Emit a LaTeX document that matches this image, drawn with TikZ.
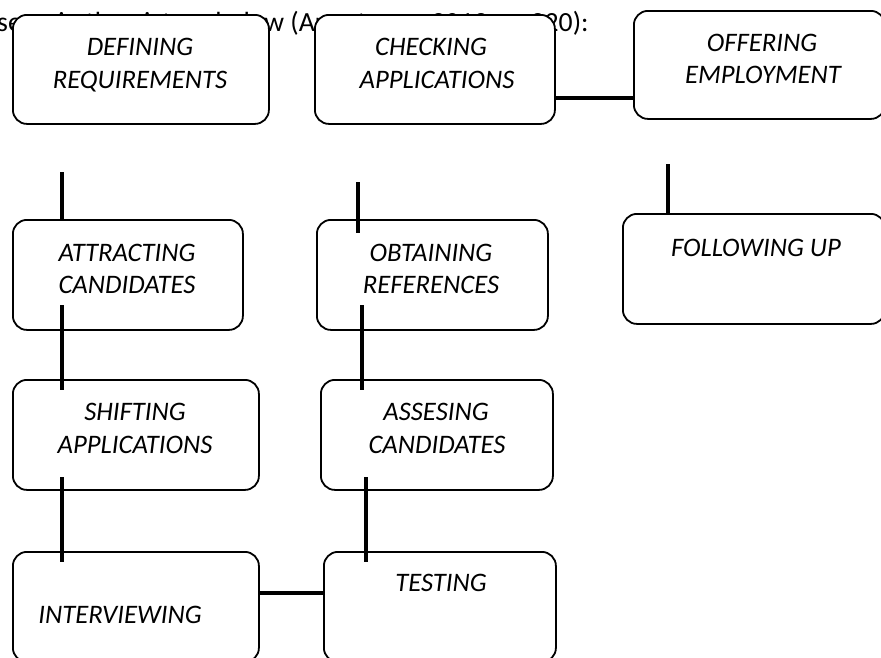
\documentclass[tikz,border=0pt]{standalone}
\usepackage{fontspec}
\setmainfont{Carlito}
\begin{document}
\begin{tikzpicture}[x=1pt,y=-1pt,
  box/.style={draw, line width=1.8pt, rounded corners=14pt, fill=white, inner sep=0pt, anchor=north west},
  conn/.style={line width=4pt},
  lbl/.style={font=\fontsize{26.7}{33}\selectfont\itshape, inner sep=0pt, anchor=base}]
\useasboundingbox (0,0) rectangle (881,657);
\node[anchor=base west, inner sep=0pt, font=\fontsize{27.7}{34}\selectfont] (intro) at (-3,31) {se as in the picture below (Armstrong, 2013, p. 220):};
% boxes
\node[box, minimum width=256pt, minimum height=109pt] (def) at (12,14) {};
\node[box, minimum width=240pt, minimum height=109pt] (chk) at (314,14) {};
\node[box, minimum width=251pt, minimum height=108pt] (off) at (633,10) {};
\node[box, minimum width=230pt, minimum height=110pt] (att) at (12,219) {};
\node[box, minimum width=231pt, minimum height=110pt] (obt) at (316,219) {};
\node[box, minimum width=262pt, minimum height=110pt] (fol) at (622,213) {};
\node[box, minimum width=246pt, minimum height=110pt] (shf) at (12,379) {};
\node[box, minimum width=232pt, minimum height=110pt] (ass) at (320,379) {};
\node[box, minimum width=246pt, minimum height=110pt] (int) at (12,551) {};
\node[box, minimum width=232pt, minimum height=110pt] (tst) at (323,551) {};
% labels
\node[lbl] (t1a) at (140,55) {DEFINING};
\node[lbl] (t1b) at (140,88) {REQUIREMENTS};
\node[lbl] (t2a) at (431,55) {CHECKING};
\node[lbl] (t2b) at (437,88) {APPLICATIONS};
\node[lbl] (t3a) at (762,51) {OFFERING};
\node[lbl] (t3b) at (763,83) {EMPLOYMENT};
\node[lbl] (t4a) at (127,261) {ATTRACTING};
\node[lbl] (t4b) at (127,293) {CANDIDATES};
\node[lbl] (t5a) at (431,261) {OBTAINING};
\node[lbl] (t5b) at (431,293) {REFERENCES};
\node[lbl] (t6a) at (756,256) {FOLLOWING UP};
\node[lbl] (t7a) at (135,420) {SHIFTING};
\node[lbl] (t7b) at (135,453) {APPLICATIONS};
\node[lbl] (t8a) at (436,420) {ASSESING};
\node[lbl] (t8b) at (437,453) {CANDIDATES};
\node[lbl] (t9a) at (441,591) {TESTING};
\node[lbl] (t10a) at (120,623) {INTERVIEWING};
% connector ends
\coordinate (c1) at (62,172);
\coordinate (c2a) at (62,305);
\coordinate (c2b) at (62,390);
\coordinate (c3a) at (62,477);
\coordinate (c3b) at (62,562);
\coordinate (c4) at (0,593);
\coordinate (c5a) at (366,477);
\coordinate (c5b) at (366,562);
\coordinate (c6a) at (362,305);
\coordinate (c6b) at (362,390);
\coordinate (c7a) at (358,182);
\coordinate (c7b) at (358,233);
\coordinate (c8) at (0,98);
\coordinate (c9) at (668,164);
% connectors
\draw[conn] (c1) -- (c1 |- att.north);
\draw[conn] (c2a) -- (c2b);
\draw[conn] (c3a) -- (c3b);
\draw[conn] (int.east |- c4) -- (tst.west |- c4);
\draw[conn] (c5a) -- (c5b);
\draw[conn] (c6a) -- (c6b);
\draw[conn] (c7a) -- (c7b);
\draw[conn] (chk.east |- c8) -- (off.west |- c8);
\draw[conn] (c9) -- (c9 |- fol.north);
\end{tikzpicture}
\end{document}
